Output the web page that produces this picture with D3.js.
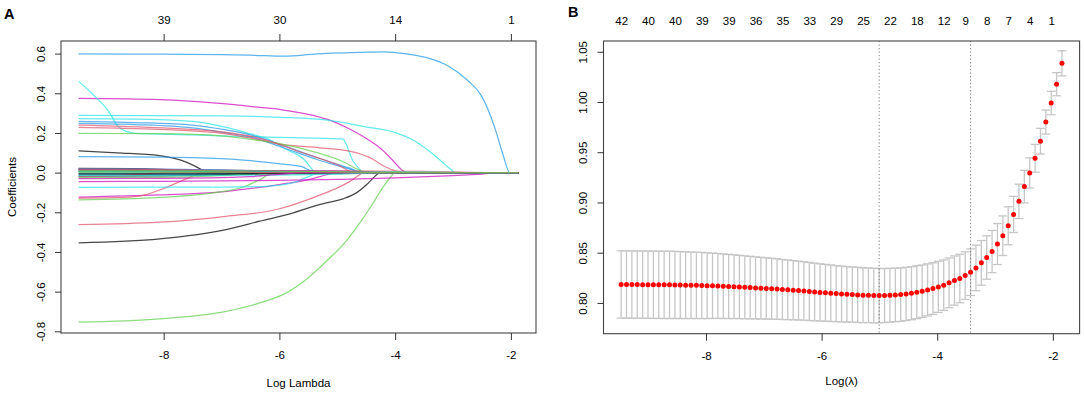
<!DOCTYPE html>
<html><head><meta charset="utf-8">
<script src="https://cdn.jsdelivr.net/npm/d3@7"></script>
<style>
body{margin:0;background:#fff}
svg{display:block}
text{font-family:"Liberation Sans",Arial,Helvetica,sans-serif;fill:#000}
</style>
</head><body>
<svg id="c" width="1084" height="397"></svg>
<script>
// ---------------- Panel A data: coefficient paths ----------------
const palette = ["#000000","#DF536B","#61D04F","#2297E6","#28E2E5","#CD0BBC"];
const topTicksA = [-8,-6,-4,-2];
const topLabelsA = ["39","30","14","1"];
const xTicksA = [-8,-6,-4,-2];
const yTicksA = [-0.8,-0.6,-0.4,-0.2,0.0,0.2,0.4,0.6];

const coefColors = [
  3,5,4,4,4,3,3,1,2,1,0,3,
  2,0,1,5,1,2,4,5,
  0,0,3,0,1,4,5,2,3,0,2,3,1,2,0,3,4,5,1,2
];
const coefKnots = [
  [[-9.47,0.598],[-8,0.597],[-6.5,0.592],[-5.9,0.587],[-5.4,0.597],[-4.6,0.606],[-4.2,0.609],[-3.8,0.598],[-3.4,0.575],[-3.09,0.539],[-2.74,0.463],[-2.51,0.388],[-2.28,0.228],[-2.14,0.094],[-2.02,0],[-1.87,0]],
  [[-9.47,0.374],[-8.07,0.368],[-6.92,0.346],[-6.34,0.329],[-5.98,0.318],[-5.4,0.287],[-5.11,0.262],[-4.82,0.225],[-4.53,0.178],[-4.24,0.119],[-4.01,0.052],[-3.87,0.01],[-3.8,0],[-1.87,0]],
  [[-9.47,0.289],[-7,0.286],[-5.98,0.279],[-5.11,0.262],[-4.53,0.232],[-4.01,0.203],[-3.67,0.161],[-3.38,0.102],[-3.15,0.044],[-3.03,0.014],[-2.97,0],[-1.87,0]],
  [[-9.47,0.46],[-9.23,0.396],[-8.94,0.304],[-8.8,0.237],[-8.65,0.208],[-8.48,0.198],[-7.5,0.19],[-6.92,0.184],[-6.0,0.178],[-5.2,0.172],[-4.91,0.17],[-4.73,0.06],[-4.62,0.019],[-4.55,0],[-1.87,0]],
  [[-9.47,0.272],[-8.5,0.27],[-7.5,0.258],[-6.92,0.228],[-6.5,0.195],[-6.2,0.17],[-5.9,0.12],[-5.57,0.065],[-5.43,0.015],[-5.38,0],[-1.87,0]],
  [[-9.47,0.258],[-8.5,0.252],[-7.5,0.24],[-6.92,0.215],[-6.5,0.19],[-5.92,0.135],[-5.34,0.075],[-4.76,0.02],[-4.55,0],[-1.87,0]],
  [[-9.47,0.248],[-8.5,0.242],[-7.5,0.225],[-6.92,0.2],[-6.5,0.18],[-5.92,0.124],[-5.34,0.065],[-4.76,0.015],[-4.6,0],[-1.87,0]],
  [[-9.47,0.228],[-8.5,0.222],[-7.5,0.21],[-6.92,0.195],[-6.34,0.165],[-5.93,0.141],[-5.3,0.125],[-4.77,0.107],[-4.4,0.07],[-4.19,0.032],[-3.95,0.005],[-3.85,0],[-1.87,0]],
  [[-9.47,0.198],[-8,0.196],[-7,0.185],[-6.34,0.161],[-5.98,0.145],[-5.4,0.105],[-4.9,0.055],[-4.6,0.01],[-4.5,0],[-1.87,0]],
  [[-9.47,0.24],[-8,0.225],[-7,0.205],[-6.3,0.17],[-5.6,0.1],[-5.0,0.04],[-4.7,0],[-1.87,0]],
  [[-9.47,0.109],[-8.8,0.1],[-8.07,0.086],[-7.6,0.052],[-7.37,0.019],[-7.26,0],[-1.87,0]],
  [[-9.47,0.081],[-8,0.078],[-6.92,0.069],[-6.5,0.06],[-5.9,0.042],[-5.63,0.032],[-5.45,0.007],[-5.4,0],[-1.87,0]],
  [[-9.47,-0.754],[-8.07,-0.737],[-6.92,-0.699],[-6.34,-0.657],[-5.88,-0.606],[-5.47,-0.522],[-5.19,-0.447],[-4.9,-0.363],[-4.61,-0.253],[-4.38,-0.153],[-4.2,-0.069],[-4.09,-0.027],[-4.0,0],[-1.87,0]],
  [[-9.47,-0.354],[-8.07,-0.334],[-6.92,-0.287],[-6.34,-0.245],[-5.76,-0.203],[-5.47,-0.175],[-5.19,-0.153],[-4.9,-0.132],[-4.67,-0.102],[-4.49,-0.06],[-4.35,-0.019],[-4.26,0],[-1.87,0]],
  [[-9.47,-0.262],[-8.07,-0.25],[-6.92,-0.22],[-6.05,-0.186],[-5.47,-0.132],[-5.07,-0.086],[-4.78,-0.044],[-4.61,-0.01],[-4.55,0],[-1.87,0]],
  [[-9.47,-0.123],[-8.07,-0.112],[-7,-0.097],[-6.5,-0.08],[-6.0,-0.06],[-5.5,-0.035],[-5.2,-0.012],[-5.0,0],[-1.87,0]],
  [[-9.47,-0.128],[-9,-0.127],[-8.42,-0.118],[-8.0,-0.08],[-7.6,-0.03],[-7.32,0],[-1.87,0]],
  [[-9.47,-0.138],[-8.07,-0.125],[-7.2,-0.105],[-6.6,-0.07],[-6.3,-0.03],[-6.1,0],[-1.87,0]],
  [[-9.47,-0.074],[-7,-0.073],[-6.34,-0.07],[-5.75,-0.05],[-5.5,-0.02],[-5.3,0],[-1.87,0]],
  [[-9.47,-0.045],[-8,-0.044],[-7,-0.042],[-6,-0.039],[-5,-0.034],[-4,-0.027],[-3,-0.015],[-2.5,-0.007],[-2.1,0],[-1.87,0]],
  [[-9.47,0.022],[-8.5,0.02],[-7.6,0.01],[-7.1,0],[-1.87,0]],
  [[-9.47,0.015],[-7.5,0.013],[-6,0.008],[-5.2,0],[-1.87,0]],
  [[-9.47,0.012],[-7,0.011],[-5,0.006],[-4.3,0],[-1.87,0]],
  [[-9.47,0.005],[-7,0.005],[-5,0.003],[-4.1,0],[-1.87,0]],
  [[-9.47,0.01],[-7,0.01],[-5,0.009],[-3.5,0.006],[-2.4,0],[-1.87,0]],
  [[-9.47,0.006],[-6,0.005],[-4,0.004],[-2.6,0],[-1.87,0]],
  [[-9.47,0.012],[-7,0.011],[-5,0.008],[-3.9,0],[-1.87,0]],
  [[-9.47,-0.008],[-7,-0.008],[-5,-0.006],[-3.2,0],[-1.87,0]],
  [[-9.47,-0.012],[-8,-0.01],[-7,-0.005],[-6.6,0],[-1.87,0]],
  [[-9.47,-0.018],[-8,-0.016],[-6.5,-0.008],[-5.8,0],[-1.87,0]],
  [[-9.47,-0.025],[-8,-0.024],[-7,-0.015],[-6.5,-0.005],[-6.2,0],[-1.87,0]],
  [[-9.47,-0.003],[-7,-0.003],[-5.5,-0.001],[-4.8,0],[-1.87,0]],
  [[-9.47,-0.02],[-9,-0.018],[-8.4,-0.008],[-8.0,0],[-1.87,0]],
  [[-9.47,0.002],[-6,0.002],[-4,0.002],[-2.8,0],[-1.87,0]],
  [[-9.47,-0.006],[-7,-0.006],[-5.5,-0.004],[-4.5,0],[-1.87,0]],
  [[-9.47,0.02],[-8,0.018],[-6.5,0.008],[-5.8,0],[-1.87,0]],
  [[-9.47,-0.015],[-7,-0.014],[-5,-0.008],[-4.2,0],[-1.87,0]],
  [[-9.47,-0.03],[-8,-0.029],[-6.5,-0.02],[-5.9,-0.006],[-5.6,0],[-1.87,0]],
  [[-9.47,0.018],[-8,0.016],[-6.8,0.006],[-6.2,0],[-1.87,0]],
  [[-9.47,0.01],[-7,0.009],[-5,0.005],[-4.4,0],[-1.87,0]]
];

// ---------------- Panel B data: cross-validation curve ----------------
const logLambda = [-9.468,-9.375,-9.282,-9.189,-9.096,-9.003,-8.910,-8.817,-8.724,-8.631,
  -8.538,-8.445,-8.352,-8.259,-8.166,-8.073,-7.980,-7.887,-7.794,-7.701,
  -7.608,-7.515,-7.422,-7.329,-7.236,-7.143,-7.050,-6.957,-6.864,-6.771,
  -6.678,-6.585,-6.492,-6.399,-6.306,-6.213,-6.120,-6.027,-5.934,-5.841,
  -5.748,-5.655,-5.562,-5.469,-5.376,-5.283,-5.190,-5.097,-5.004,-4.911,
  -4.818,-4.725,-4.632,-4.539,-4.446,-4.353,-4.260,-4.167,-4.074,-3.981,
  -3.888,-3.795,-3.702,-3.609,-3.516,-3.423,-3.330,-3.237,-3.144,-3.051,
  -2.958,-2.865,-2.772,-2.679,-2.586,-2.493,-2.400,-2.307,-2.214,-2.121,
  -2.028,-1.935,-1.842];
const cvm = [0.8184,0.8184,0.8183,0.8183,0.8182,0.8182,0.8181,0.8181,0.8180,0.8180,
  0.8179,0.8178,0.8177,0.8176,0.8175,0.8174,0.8172,0.8171,0.8169,0.8167,
  0.8164,0.8162,0.8159,0.8156,0.8153,0.8150,0.8147,0.8144,0.8141,0.8138,
  0.8134,0.8131,0.8127,0.8123,0.8119,0.8114,0.8109,0.8105,0.8101,0.8097,
  0.8093,0.8089,0.8086,0.8083,0.8080,0.8077,0.8077,0.8074,0.8073,0.8074,
  0.8077,0.8080,0.8083,0.8090,0.8097,0.8107,0.8117,0.8130,0.8143,0.8160,
  0.8177,0.8200,0.8223,0.8243,0.8272,0.8306,0.8349,0.8399,0.8452,0.8512,
  0.8586,0.8669,0.8768,0.8881,0.9011,0.9158,0.9294,0.9440,0.9610,0.9800,
  0.9990,1.0177,1.0385];
const cvsd = [0.0335,0.0335,0.0335,0.0335,0.0335,0.0335,0.0335,0.0335,0.0335,0.0335,
  0.0334,0.0333,0.0332,0.0331,0.0330,0.0329,0.0327,0.0325,0.0323,0.0321,
  0.0319,0.0317,0.0315,0.0313,0.0311,0.0309,0.0307,0.0305,0.0303,0.0301,
  0.0299,0.0297,0.0295,0.0293,0.0291,0.0289,0.0287,0.0285,0.0283,0.0281,
  0.0279,0.0277,0.0276,0.0275,0.0274,0.0273,0.0272,0.0271,0.0270,0.0269,
  0.0268,0.0267,0.0266,0.0265,0.0264,0.0263,0.0261,0.0259,0.0257,0.0254,
  0.0251,0.0248,0.0245,0.0241,0.0237,0.0232,0.0227,0.0222,0.0216,0.0210,
  0.0204,0.0197,0.0189,0.0180,0.0171,0.0162,0.0150,0.0138,0.0128,0.0120,
  0.0116,0.0115,0.0125];
const nzIndex = [0,5,10,15,20,25,30,35,40,45,50,55,60,64,68,72,76,80];
const nzLabels = ["42","40","40","39","39","36","35","33","29","25","22","18","12","9","8","7","4","1"];
const lambdaMinLog = -5.004;
const lambda1seLog = -3.423;
const xTicksB = [-8,-6,-4,-2];
const yTicksB = [0.80,0.85,0.90,0.95,1.00,1.05];

// ---------------- drawing ----------------
const svg = d3.select("#c");
const FS = 11.5;

function styleAxis(g){
  g.select(".domain").remove();
  g.selectAll("line").attr("stroke","#333").attr("stroke-width",1);
  g.selectAll("text").attr("font-size",FS).attr("fill","#000");
}

// ---- Panel A ----
const A = {l:61, r:536, t:41, b:333};
const xA = d3.scaleLinear().domain([-9.774,-1.566]).range([A.l,A.r]);
const yA = d3.scaleLinear().domain([-0.8085,0.6635]).range([A.b,A.t]);

const gA = svg.append("g");
gA.append("clipPath").attr("id","clipA").append("rect")
  .attr("x",A.l).attr("y",A.t).attr("width",A.r-A.l).attr("height",A.b-A.t);
const lineA = d3.line().x(d=>xA(d[0])).y(d=>yA(d[1])).curve(d3.curveMonotoneX);
gA.append("g").attr("clip-path","url(#clipA)").selectAll("path")
  .data(coefKnots).join("path")
  .attr("d",lineA).attr("fill","none")
  .attr("stroke",(d,i)=>palette[coefColors[i]])
  .attr("stroke-opacity",0.72)
  .attr("stroke-width",1.25);

gA.append("rect").attr("x",A.l).attr("y",A.t).attr("width",A.r-A.l).attr("height",A.b-A.t)
  .attr("fill","none").attr("stroke","#444").attr("stroke-width",1.1);

gA.append("g").attr("transform",`translate(0,${A.b})`)
  .call(d3.axisBottom(xA).tickValues(xTicksA).tickSize(7).tickPadding(11).tickFormat(d=>String(d)))
  .call(styleAxis);
gA.append("g").attr("transform",`translate(0,${A.t})`)
  .call(d3.axisTop(xA).tickValues(topTicksA).tickSize(7).tickPadding(10).tickFormat((d,i)=>topLabelsA[i]))
  .call(styleAxis);
gA.append("g").attr("transform",`translate(${A.l},0)`)
  .call(d3.axisLeft(yA).tickValues(yTicksA).tickSize(6).tickFormat(d=>d3.format(".1f")(d).replace("−","-")))
  .call(styleAxis)
  .call(g=>g.selectAll("text").attr("x",0).attr("dy",0).attr("text-anchor","middle")
     .attr("transform","translate(-16,0) rotate(-90)"));

gA.append("text").attr("x",(A.l+A.r)/2).attr("y",386.5).attr("text-anchor","middle")
  .attr("font-size",FS).text("Log Lambda");
gA.append("text").attr("transform",`translate(15.5,${(A.t+A.b)/2}) rotate(-90)`)
  .attr("text-anchor","middle").attr("font-size",FS).text("Coefficients");
gA.append("text").attr("x",4).attr("y",18.5).attr("font-size",14.5).attr("font-weight","bold").text("A");

// ---- Panel B ----
const B = {l:603.5, r:1079.6, t:41, b:333.7};
const xB = d3.scaleLinear().domain([-9.773,-1.537]).range([B.l,B.r]);
const yB = d3.scaleLinear().domain([0.7694,1.0607]).range([B.b,B.t]);
const gB = svg.append("g");

const cv = logLambda.map((x,i)=>({x, m:cvm[i], up:cvm[i]+cvsd[i], lo:cvm[i]-cvsd[i]}));
const barw = (d3.max(logLambda)-d3.min(logLambda))*0.01;
const eb = gB.append("g").attr("stroke","#c6c6c6").attr("stroke-width",1.3);
eb.selectAll("line.v").data(cv).join("line").attr("class","v")
  .attr("x1",d=>xB(d.x)).attr("x2",d=>xB(d.x)).attr("y1",d=>yB(d.up)).attr("y2",d=>yB(d.lo));
eb.selectAll("line.u").data(cv).join("line").attr("class","u")
  .attr("x1",d=>xB(d.x-barw)).attr("x2",d=>xB(d.x+barw)).attr("y1",d=>yB(d.up)).attr("y2",d=>yB(d.up));
eb.selectAll("line.l").data(cv).join("line").attr("class","l")
  .attr("x1",d=>xB(d.x-barw)).attr("x2",d=>xB(d.x+barw)).attr("y1",d=>yB(d.lo)).attr("y2",d=>yB(d.lo));

gB.selectAll("line.ref").data([lambdaMinLog,lambda1seLog]).join("line").attr("class","ref")
  .attr("x1",d=>xB(d)).attr("x2",d=>xB(d)).attr("y1",B.t).attr("y2",B.b)
  .attr("stroke","#7a7a7a").attr("stroke-width",1).attr("stroke-dasharray","1.2,2.3");

gB.append("g").selectAll("circle").data(cv).join("circle")
  .attr("cx",d=>xB(d.x)).attr("cy",d=>yB(d.m)).attr("r",2.5).attr("fill","#ff0000");

gB.append("rect").attr("x",B.l).attr("y",B.t).attr("width",B.r-B.l).attr("height",B.b-B.t)
  .attr("fill","none").attr("stroke","#444").attr("stroke-width",1.1);

gB.append("g").attr("transform",`translate(0,${B.b})`)
  .call(d3.axisBottom(xB).tickValues(xTicksB).tickSize(7).tickPadding(11).tickFormat(d=>String(d)))
  .call(styleAxis);
gB.append("g").attr("transform",`translate(${B.l},0)`)
  .call(d3.axisLeft(yB).tickValues(yTicksB).tickSize(6).tickFormat(d3.format(".2f")))
  .call(styleAxis)
  .call(g=>g.selectAll("text").attr("x",0).attr("dy",0).attr("text-anchor","middle")
     .attr("transform","translate(-16.5,0) rotate(-90)"));
gB.append("g").attr("transform",`translate(0,${B.t})`)
  .call(d3.axisTop(xB).tickValues(nzIndex.map(i=>logLambda[i])).tickSize(0).tickPadding(16.5)
    .tickFormat((d,i)=>nzLabels[i]))
  .call(styleAxis);

gB.append("text").attr("x",(B.l+B.r)/2).attr("y",385).attr("text-anchor","middle")
  .attr("font-size",FS).text("Log(λ)");
gB.append("text").attr("x",568).attr("y",17).attr("font-size",14.5).attr("font-weight","bold").text("B");
</script>
</body></html>
